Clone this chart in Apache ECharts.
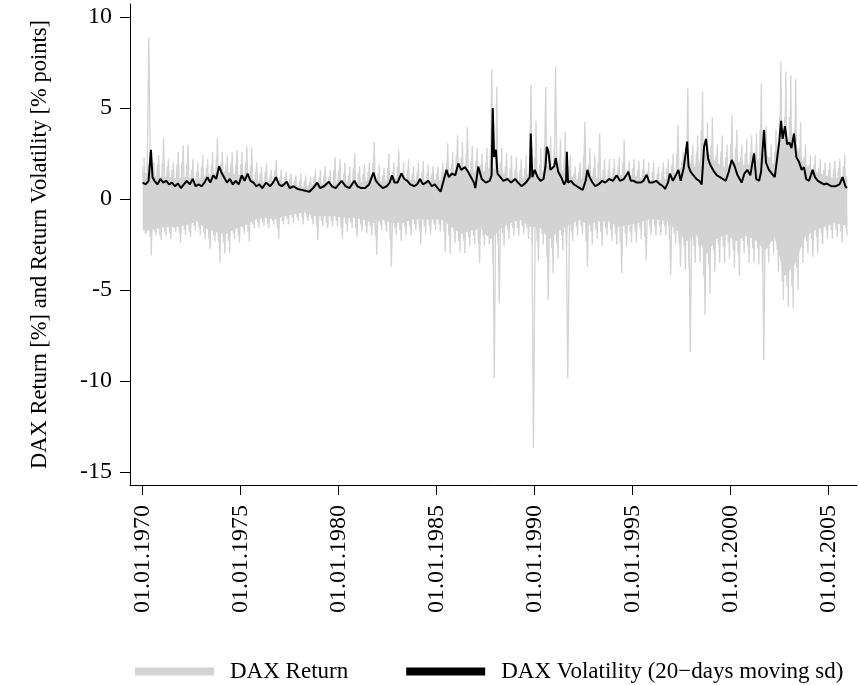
<!DOCTYPE html>
<html><head><meta charset="utf-8">
<script src="https://cdn.jsdelivr.net/npm/echarts@6/dist/echarts.min.js"></script>
<style>html,body{margin:0;padding:0;background:#fff}#c{width:859px;height:685px}</style>
</head><body><div id="c"></div>
<script>
// Quarterly extremes of DAX daily returns (%), 1970Q1 .. 2005Q4
const firstYear = 1970;
const retHigh = [
  2.3, 8.85, 2.0, 2.4,   3.35, 2.2, 2.0, 2.6,   2.95, 3.0, 2.2, 2.0,   2.4, 2.2, 2.6, 3.35,
  2.6, 2.4, 2.6, 2.7,    2.6, 2.9, 2.8, 2.0,    1.8, 1.95, 1.6, 2.15,  1.6, 1.5, 1.4, 1.3,
  1.4, 1.3, 1.2, 1.6,    1.6, 1.8, 1.6, 2.3,    2.2, 2.0, 1.8, 2.5,    1.8, 1.9, 2.0, 3.15,
  1.9, 1.7, 2.5, 2.0,    2.7, 2.0, 2.2, 1.8,    2.0, 2.1, 1.9, 1.8,    1.8, 2.0, 3.06, 2.6,
  3.5, 3.1, 3.97, 2.9,   2.8, 2.5, 2.8, 7.12,   6.17, 2.8, 2.5, 2.4,   2.3, 2.2, 2.4, 6.26,
  4.3, 2.8, 6.17, 3.4,   7.27, 3.3, 3.7, 2.4,   1.8, 2.0, 4.25, 2.8,   2.4, 3.6, 2.2, 2.2,
  2.2, 2.3, 3.24, 2.1,   2.2, 2.1, 2.2, 2.0,    2.0, 1.8, 2.0, 2.2,    2.5, 4.07, 2.6, 6.08,
  3.0, 3.5, 5.9, 4.2,    4.5, 3.0, 3.5, 3.0,    4.6, 3.8, 3.0, 3.3,    3.5, 3.6, 6.35, 4.0,
  3.0, 3.8, 7.55, 7.0,   6.8, 6.6, 4.25, 3.0,   2.4, 2.4, 2.2, 2.0,    2.0, 2.1, 2.2, 2.45
];
const retLow = [
  -1.9, -3.1, -2.0, -2.25,  -2.0, -2.2, -1.8, -2.4,  -2.0, -2.1, -1.7, -2.0,  -2.2, -2.75, -2.3, -3.5,
  -3.0, -2.95, -2.2, -2.4,  -1.9, -2.35, -1.6, -1.6, -1.5, -1.6, -1.4, -2.2,  -1.4, -1.4, -1.3, -1.2,
  -1.4, -1.2, -1.4, -2.25,  -1.5, -1.6, -1.5, -1.5,  -2.2, -1.8, -1.6, -2.1,  -1.8, -1.9, -2.0, -3.07,
  -1.7, -1.8, -3.72, -2.0,  -2.3, -2.0, -2.0, -1.7,  -2.5, -1.9, -1.95, -1.7, -1.8, -2.9, -3.0, -2.4,
  -2.9, -2.98, -2.6, -2.5,  -3.53, -2.6, -2.5, -9.85, -5.73, -2.6, -2.2, -2.0, -2.0, -1.9, -2.2, -13.7,
  -3.4, -2.5, -5.55, -4.08, -3.3, -2.8, -9.85, -2.3, -2.0, -1.9, -3.72, -2.5,  -2.2, -2.6, -2.0, -2.3,
  -2.5, -4.08, -2.6, -2.4,  -2.4, -2.2, -3.35, -2.0, -2.0, -2.0, -2.0, -4.18,  -2.5, -3.72, -3.9, -8.4,
  -3.5, -3.5, -6.37, -5.2,  -4.0, -3.5, -3.5, -3.3,  -3.8, -4.2, -3.0, -3.5,  -3.5, -3.6, -8.85, -3.5,
  -3.0, -4.0, -5.55, -5.9,  -6.0, -5.0, -3.5, -3.0,  -3.2, -3.0, -2.5, -2.2,  -2.2, -2.1, -2.4, -2.0
];
// Quarterly level of the frequent (secondary) daily swings (%)
const retHigh2 = [
  1.8, 2.0, 1.7, 1.9,  2.0, 1.8, 1.6, 1.9,  2.0, 1.9, 1.6, 1.5,  1.8, 1.7, 1.9, 2.2,
  2.0, 1.9, 2.0, 1.9,  1.9, 2.0, 1.8, 1.5,  1.4, 1.5, 1.3, 1.6,  1.2, 1.2, 1.1, 1.0,
  1.0, 1.0, 0.9, 1.2,  1.2, 1.3, 1.2, 1.6,  1.6, 1.4, 1.3, 1.7,  1.4, 1.4, 1.5, 2.0,
  1.4, 1.3, 1.7, 1.5,  1.8, 1.5, 1.6, 1.4,  1.5, 1.5, 1.4, 1.4,  1.4, 1.5, 2.0, 1.9,
  2.4, 2.3, 2.5, 2.1,  2.1, 1.9, 2.0, 3.0,  2.5, 2.0, 1.8, 1.7,  1.6, 1.6, 1.7, 2.3,
  2.3, 1.9, 3.0, 2.4,  2.8, 2.2, 2.2, 1.8,  1.4, 1.5, 2.4, 1.9,  1.7, 2.0, 1.6, 1.6,
  1.7, 1.8, 2.0, 1.6,  1.7, 1.6, 1.6, 1.5,  1.5, 1.4, 1.5, 1.7,  1.9, 2.5, 2.1, 3.2,
  2.4, 2.6, 3.8, 3.2,  3.0, 2.4, 2.6, 2.3,  3.0, 2.8, 2.3, 2.5,  2.6, 2.6, 3.8, 2.8,
  2.3, 2.6, 4.5, 4.5,  4.5, 3.8, 2.8, 2.3,  1.9, 1.9, 1.7, 1.6,  1.6, 1.6, 1.7, 1.8
];
const retLow2 = [
  -1.9, -2.1, -1.8, -2.0,  -1.8, -1.9, -1.6, -1.9,  -1.7, -1.8, -1.5, -1.6,  -1.9, -2.2, -2.0, -2.4,
  -2.4, -2.3, -1.9, -2.0,  -1.6, -1.8, -1.4, -1.3,  -1.3, -1.4, -1.2, -1.6,  -1.2, -1.1, -1.0, -1.0,
  -1.0, -1.0, -1.1, -1.5,  -1.2, -1.3, -1.2, -1.2,  -1.6, -1.4, -1.3, -1.6,  -1.4, -1.5, -1.5, -2.0,
  -1.4, -1.4, -2.2, -1.6,  -1.7, -1.5, -1.5, -1.4,  -1.7, -1.5, -1.5, -1.4,  -1.4, -1.8, -2.0, -1.8,
  -2.3, -2.3, -2.1, -2.0,  -2.4, -2.0, -2.0, -3.5,  -2.5, -1.9, -1.7, -1.6,  -1.6, -1.5, -1.6, -2.5,
  -2.3, -1.9, -3.2, -2.7,  -2.4, -2.0, -2.6, -1.8,  -1.5, -1.5, -2.3, -1.8,  -1.7, -1.8, -1.6, -1.7,
  -1.9, -2.4, -1.9, -1.8,  -1.8, -1.6, -2.1, -1.5,  -1.5, -1.5, -1.5, -2.2,  -1.9, -2.5, -2.6, -3.8,
  -2.6, -2.6, -4.2, -3.6,  -2.8, -2.5, -2.6, -2.4,  -2.8, -3.0, -2.3, -2.6,  -2.7, -2.7, -4.0, -2.7,
  -2.3, -2.8, -4.5, -4.8,  -4.8, -3.8, -2.6, -2.3,  -2.2, -2.1, -1.9, -1.7,  -1.7, -1.7, -1.8, -1.6
];
// Half-yearly dense core band of the returns (%)
const coreHigh = [
  1.4, 1.2,  1.2, 1.1,  1.2, 1.0,  1.3, 1.4,  1.5, 1.3,  1.3, 1.0,  0.9, 1.0,  0.8, 0.7,  0.6, 0.8,
  0.8, 0.8,  0.9, 0.9,  0.9, 1.1,  0.9, 1.1,  1.2, 1.0,  1.0, 1.0,  1.0, 1.4,  1.7, 1.5,  1.4, 1.7,
  1.5, 1.1,  1.0, 1.4,  1.3, 1.9,  1.6, 1.3,  1.0, 1.3,  1.1, 1.1,  1.3, 1.3,  1.2, 1.0,  1.0, 1.1,
  1.5, 2.0,  1.7, 2.6,  2.0, 1.7,  2.1, 1.8,  2.0, 2.5,  1.8, 3.5,  3.0, 1.9,  1.5, 1.3,  1.1, 1.2
];
const coreLow = [
  -1.7, -1.6,  -1.5, -1.5,  -1.4, -1.2,  -1.6, -1.8,  -1.9, -1.6,  -1.4, -1.1,  -1.0, -1.1,  -0.9, -0.8,  -0.7, -0.9,
  -0.9, -0.9,  -1.0, -1.0,  -1.1, -1.3,  -1.1, -1.3,  -1.3, -1.1,  -1.1, -1.1,  -1.1, -1.5,  -1.9, -1.7,  -1.6, -2.2,
  -1.6, -1.3,  -1.1, -1.5,  -1.5, -2.2,  -1.7, -1.4,  -1.1, -1.4,  -1.2, -1.2,  -1.5, -1.4,  -1.3, -1.1,  -1.1, -1.2,
  -1.7, -2.3,  -1.9, -3.0,  -2.2, -1.9,  -2.3, -2.0,  -2.2, -2.8,  -2.0, -4.2,  -3.6, -2.1,  -1.7, -1.5,  -1.3, -1.4
];
// 20-day moving standard deviation (% points)
const volTime = [
  1970.0,1970.15,1970.3,1970.42,1970.5,1970.6,1970.75,1970.9,1971.05,1971.2,1971.35,1971.5,1971.65,1971.8,1971.95,
  1972.1,1972.25,1972.4,1972.55,1972.7,1972.85,1973.0,1973.15,1973.3,1973.45,1973.6,1973.75,1973.9,1974.0,1974.15,
  1974.3,1974.45,1974.6,1974.75,1974.9,1975.05,1975.2,1975.35,1975.5,1975.65,1975.8,1975.95,1976.1,1976.3,1976.5,
  1976.65,1976.8,1976.95,1977.1,1977.35,1977.5,1977.7,1977.9,1978.1,1978.3,1978.5,1978.7,1978.9,1979.05,1979.25,
  1979.5,1979.65,1979.85,1980.0,1980.15,1980.35,1980.55,1980.8,1980.95,1981.15,1981.35,1981.55,1981.77,1981.9,1982.05,
  1982.25,1982.45,1982.6,1982.72,1982.85,1983.0,1983.2,1983.35,1983.5,1983.65,1983.85,1984.0,1984.15,1984.3,1984.45,
  1984.57,1984.75,1984.9,1985.05,1985.2,1985.35,1985.5,1985.62,1985.78,1985.95,1986.1,1986.25,1986.44,1986.6,1986.75,
  1986.9,1986.97,1987.12,1987.3,1987.5,1987.7,1987.8,1987.86,1987.93,1988.02,1988.1,1988.25,1988.4,1988.6,1988.8,
  1989.0,1989.15,1989.33,1989.55,1989.75,1989.8,1989.88,1990.0,1990.15,1990.3,1990.45,1990.55,1990.62,1990.7,1990.8,
  1990.9,1991.0,1991.07,1991.2,1991.35,1991.5,1991.6,1991.64,1991.7,1991.85,1992.0,1992.15,1992.3,1992.45,1992.6,
  1992.69,1992.8,1992.95,1993.1,1993.25,1993.45,1993.6,1993.8,1994.0,1994.18,1994.35,1994.55,1994.78,1994.9,1995.05,
  1995.2,1995.4,1995.55,1995.71,1995.85,1996.0,1996.2,1996.4,1996.55,1996.65,1996.8,1996.9,1997.05,1997.2,1997.33,
  1997.45,1997.6,1997.78,1997.85,1997.95,1998.1,1998.25,1998.4,1998.52,1998.64,1998.74,1998.85,1998.95,1999.05,1999.15,
  1999.3,1999.45,1999.6,1999.75,1999.9,2000.05,2000.2,2000.35,2000.56,2000.7,2000.85,2001.0,2001.19,2001.3,2001.45,
  2001.55,2001.7,2001.8,2001.95,2002.1,2002.25,2002.35,2002.48,2002.57,2002.65,2002.77,2002.88,2003.0,2003.1,2003.23,
  2003.35,2003.5,2003.62,2003.74,2003.85,2004.0,2004.18,2004.3,2004.45,2004.6,2004.75,2004.9,2005.15,2005.35,2005.55,
  2005.71,2005.85,2005.93
];
const volValue = [
  0.9,0.8,1.0,2.7,1.2,1.0,0.8,1.1,0.9,1.0,0.8,0.9,0.7,0.85,0.6,
  0.8,1.0,0.8,1.1,0.7,0.8,0.7,0.9,1.2,0.9,1.3,1.1,1.8,1.5,1.2,
  0.9,1.1,0.8,1.0,0.8,1.3,1.0,1.4,1.0,0.9,0.7,0.8,0.6,0.9,0.7,
  0.9,1.2,0.8,0.7,0.95,0.6,0.7,0.55,0.5,0.45,0.4,0.6,0.9,0.6,0.7,
  0.95,0.7,0.6,0.8,1.0,0.7,0.6,1.0,0.7,0.6,0.6,0.8,1.45,1.0,0.8,
  0.6,0.7,0.9,1.3,0.9,0.9,1.4,1.1,1.0,0.8,0.7,0.8,1.1,0.8,0.9,
  1.0,0.7,0.8,0.6,0.4,1.0,1.6,1.2,1.4,1.3,1.95,1.6,1.75,1.5,1.2,
  0.9,0.6,1.78,1.1,0.9,1.0,1.3,5.0,2.3,2.7,1.4,1.2,1.0,1.1,0.9,
  1.1,0.9,0.7,0.9,1.2,3.6,1.2,1.6,1.2,1.0,1.1,1.8,2.87,2.6,1.6,
  1.5,1.8,2.25,1.5,1.2,0.8,1.0,2.6,0.9,1.0,0.8,0.7,0.6,0.5,1.0,
  1.6,1.2,0.9,0.7,0.8,1.0,0.9,1.1,1.0,1.3,1.0,1.1,1.5,1.0,1.0,
  0.9,0.9,1.0,1.33,0.9,0.9,1.0,0.8,0.7,0.55,0.9,1.4,1.0,1.3,1.6,
  1.0,1.7,3.15,1.8,1.5,1.3,1.1,1.0,0.8,2.87,3.3,2.2,1.9,2.0,1.5,
  1.3,1.2,1.1,1.0,1.5,2.15,1.8,1.3,0.9,1.4,1.6,1.3,2.5,1.1,1.0,
  1.5,3.8,2.0,1.6,1.4,1.2,1.1,3.2,4.3,3.3,4.0,3.0,3.1,2.8,3.6,
  2.3,2.0,1.6,1.75,1.1,1.0,1.6,1.2,1.0,0.9,0.8,0.85,0.7,0.7,0.8,
  1.2,0.7,0.6
];
const xTicks = [1970, 1975, 1980, 1985, 1990, 1995, 2000, 2005];
const yTicks = [-15, -10, -5, 0, 5, 10];
const lastTime = 2005.95;

const FONT = 'Liberation Serif';
const GRAY = '#d3d3d3';

function zigzag(hi, lo, offHi, offLo) {
  const pts = [];
  hi.forEach((h, i) => {
    const t0 = firstYear + i / 4;
    pts.push([t0 + offHi, h]);
    pts.push([t0 + offLo, lo[i]]);
  });
  return pts;
}
function bandPoints(arr) {
  const pts = [[firstYear, arr[0]]];
  arr.forEach((v, j) => pts.push([firstYear + j / 2 + 0.25, v]));
  pts.push([lastTime, arr[arr.length - 1]]);
  return pts;
}
const volLine = volTime.map((t, i) => [t, volValue[i]]);

const grayLine = (name, data, width) => ({
  name, type: 'line', data, showSymbol: false, silent: true,
  lineStyle: { width, color: GRAY }, itemStyle: { color: GRAY }
});

const chart = echarts.init(document.getElementById('c'), null, { renderer: 'canvas' });
chart.setOption({
  animation: false,
  backgroundColor: '#fff',
  grid: { left: 130, right: 2, top: 4, bottom: 200, containLabel: false },
  xAxis: {
    type: 'value', min: 1969.352, max: 2006.444,
    splitLine: { show: false },
    axisLine: { show: true, onZero: false, lineStyle: { color: '#000', width: 1 } },
    axisTick: { show: true, length: 10, lineStyle: { color: '#000' }, customValues: xTicks },
    axisLabel: {
      rotate: 90, margin: 20, customValues: xTicks,
      formatter: v => '01.01.' + v,
      fontFamily: FONT, fontSize: 24, color: '#000'
    }
  },
  yAxis: {
    type: 'value', min: -15.714, max: 10.714,
    name: 'DAX Return [%] and Return Volatility [% points]',
    nameLocation: 'middle', nameGap: 78,
    nameTextStyle: { fontFamily: FONT, fontSize: 22.5, color: '#000' },
    splitLine: { show: false },
    axisLine: { show: true, onZero: false, lineStyle: { color: '#000', width: 1 } },
    axisTick: { show: true, length: 10, lineStyle: { color: '#000' }, customValues: yTicks },
    axisLabel: { margin: 18, customValues: yTicks, fontFamily: FONT, fontSize: 24, color: '#000' }
  },
  legend: {
    left: 130, top: 655, icon: 'rect', itemWidth: 79, itemHeight: 8, itemGap: 58,
    selectedMode: false,
    data: ['DAX Return', 'DAX Volatility (20\u2212days moving sd)'],
    textStyle: { fontFamily: FONT, fontSize: 23, color: '#000', padding: [0, 0, 0, 11] }
  },
  series: [
    Object.assign(grayLine('core-high', bandPoints(coreHigh), 1), { areaStyle: { color: GRAY, opacity: 1 } }),
    Object.assign(grayLine('core-low', bandPoints(coreLow), 1), { areaStyle: { color: GRAY, opacity: 1 } }),
    grayLine('return-swings', zigzag(retHigh2, retLow2, 0.0, 0.125), 1.3),
    grayLine('DAX Return', zigzag(retHigh, retLow, 0.0625, 0.1875), 1.3),
    { name: 'DAX Volatility (20\u2212days moving sd)', type: 'line', data: volLine, showSymbol: false, silent: true,
      lineStyle: { width: 2, color: '#000' }, itemStyle: { color: '#000' } }
  ]
});
</script></body></html>
